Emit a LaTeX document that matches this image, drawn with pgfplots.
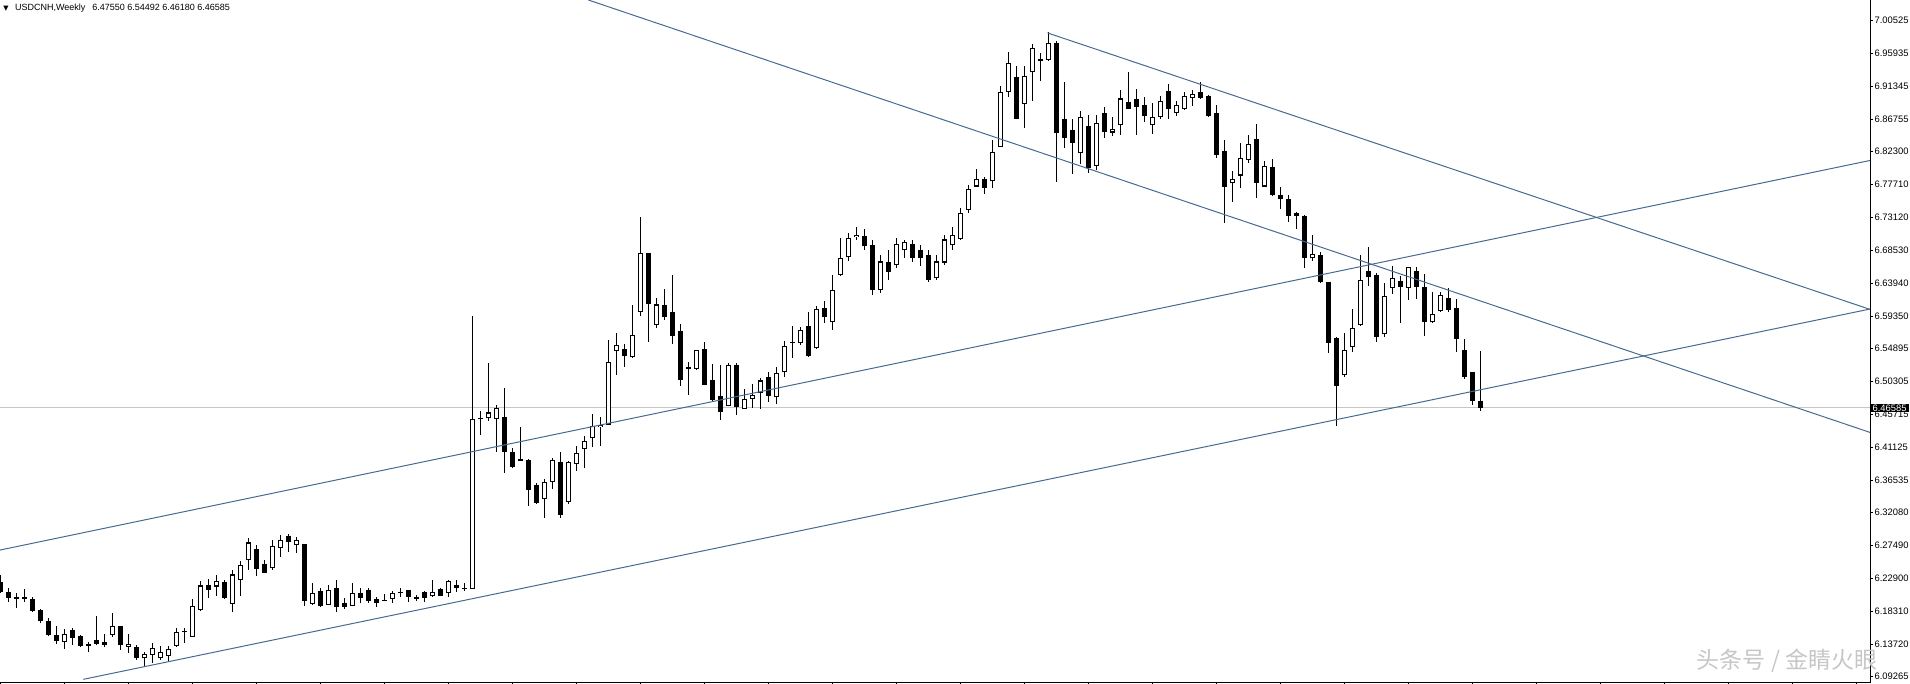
\documentclass[border=0pt]{standalone}
\usepackage{fontspec}
\setmainfont{Liberation Sans}
\newfontfamily\cjk{Noto Sans CJK SC}
\newfontfamily\dejavu{DejaVu Sans}
\usepackage{pgfplots}
\usepackage{pgfplotstable}
\pgfplotsset{compat=1.18}

% weekly candles, rising (white) ones: index, open, high, low, close
\pgfplotstableread{
i o h l c
8 6.1416 6.1583 6.1305 6.1513
14 6.1513 6.1805 6.1471 6.1624
16 6.1346 6.1513 6.1249 6.1374
18 6.1180 6.1263 6.1054 6.1235
19 6.1235 6.1388 6.1110 6.1305
20 6.1193 6.1346 6.1152 6.1263
21 6.1221 6.1346 6.1124 6.1291
22 6.1360 6.1597 6.1332 6.1541
24 6.1485 6.2000 6.1471 6.1889
25 6.1861 6.2251 6.1833 6.2181
27 6.2181 6.2334 6.2042 6.2237
29 6.1944 6.2404 6.1819 6.2334
30 6.2278 6.2529 6.2042 6.2473
31 6.2543 6.2848 6.2404 6.2779
34 6.2432 6.2821 6.2404 6.2724
35 6.2710 6.2890 6.2585 6.2807
37 6.2752 6.2863 6.2640 6.2807
39 6.1944 6.2223 6.1916 6.2070
41 6.1930 6.2195 6.1916 6.2125
44 6.1916 6.2223 6.1903 6.2083
49 6.2014 6.2111 6.1944 6.2083
54 6.2042 6.2264 6.2028 6.2097
56 6.2097 6.2264 6.2028 6.2237
59 6.2153 6.5936 6.2139 6.4490
61 6.4518 6.5283 6.4476 6.4587
62 6.4504 6.4698 6.4045 6.4643
68 6.3391 6.3669 6.3127 6.3614
69 6.3628 6.3961 6.3530 6.3933
71 6.3363 6.3920 6.3321 6.3892
72 6.3878 6.4128 6.3781 6.4017
73 6.4087 6.4267 6.3822 6.4184
74 6.4240 6.4573 6.4114 6.4393
75 6.4393 6.4532 6.4128 6.4420
76 6.4434 6.5603 6.4420 6.5283
77 6.5450 6.5700 6.5116 6.5519
79 6.5366 6.6089 6.5352 6.5658
80 6.5992 6.7313 6.5936 6.6812
82 6.5811 6.6186 6.5770 6.6089
87 6.5199 6.5464 6.5185 6.5450
91 6.4685 6.5283 6.4680 6.5241
93 6.4643 6.4921 6.4640 6.4768
94 6.4782 6.4991 6.4657 6.4824
95 6.4866 6.5074 6.4643 6.5032
97 6.4810 6.5227 6.4712 6.5130
98 6.5171 6.5589 6.5088 6.5506
100 6.5561 6.5783 6.5533 6.5728
102 6.5492 6.6075 6.5478 6.6020
104 6.5853 6.6507 6.5742 6.6284
105 6.6520 6.7020 6.6493 6.6729
106 6.6757 6.7090 6.6701 6.7007
107 6.7035 6.7174 6.6993 6.7062
110 6.6298 6.6784 6.6256 6.6687
112 6.6646 6.7020 6.6604 6.6924
113 6.6854 6.6993 6.6743 6.6952
117 6.6465 6.6784 6.6437 6.6687
118 6.6687 6.7062 6.6646 6.6993
119 6.6924 6.7174 6.6854 6.7049
120 6.7020 6.7438 6.6993 6.7368
121 6.7424 6.7758 6.7368 6.7689
122 6.7744 6.7981 6.7730 6.7828
124 6.7814 6.8384 6.7716 6.8203
125 6.8300 6.9135 6.8287 6.9038
126 6.9065 6.9608 6.8982 6.9441
128 6.8898 6.9413 6.8551 6.9260
129 6.9330 6.9719 6.8926 6.9663
131 6.9510 6.9886 6.9483 6.9719
135 6.8203 6.8787 6.8050 6.8690
137 6.8036 6.8732 6.7967 6.8607
139 6.8495 6.8704 6.8440 6.8523
140 6.8593 6.9079 6.8454 6.8954
144 6.8593 6.8898 6.8468 6.8690
145 6.8704 6.8996 6.8676 6.8926
147 6.8773 6.8926 6.8718 6.8857
148 6.8815 6.9051 6.8801 6.8982
149 6.8968 6.9079 6.8857 6.9010
154 6.7786 6.7953 6.7522 6.7841
155 6.7897 6.8342 6.7716 6.8120
156 6.8106 6.8454 6.8064 6.8328
158 6.7744 6.8092 6.7730 6.8022
164 6.6743 6.7062 6.6701 6.6798
168 6.5116 6.5700 6.5088 6.5450
169 6.5506 6.6034 6.5436 6.5756
170 6.5811 6.6784 6.5797 6.6423
173 6.5686 6.6395 6.5644 6.6214
174 6.6339 6.6632 6.6242 6.6451
176 6.6339 6.6618 6.6159 6.6604
179 6.5853 6.6270 6.5845 6.5950
180 6.6006 6.6270 6.5992 6.6228
}\bull

% falling (black) candles
\pgfplotstableread{
i o h l c
0 6.2237 6.2334 6.2090 6.2097
1 6.2097 6.2153 6.1958 6.2014
2 6.2028 6.2083 6.1875 6.2000
3 6.2028 6.2139 6.1958 6.2000
4 6.2000 6.2028 6.1819 6.1833
5 6.1847 6.1861 6.1666 6.1694
6 6.1694 6.1736 6.1485 6.1499
7 6.1499 6.1624 6.1374 6.1416
9 6.1569 6.1597 6.1360 6.1457
10 6.1485 6.1499 6.1332 6.1346
11 6.1374 6.1402 6.1263 6.1346
12 6.1430 6.1764 6.1360 6.1374
13 6.1402 6.1513 6.1332 6.1360
15 6.1624 6.1624 6.1291 6.1360
17 6.1332 6.1360 6.1152 6.1180
23 6.1555 6.1597 6.1388 6.1541
26 6.2195 6.2278 6.2014 6.2125
28 6.2237 6.2264 6.2000 6.2014
32 6.2696 6.2752 6.2320 6.2418
33 6.2487 6.2543 6.2355 6.2362
36 6.2877 6.2904 6.2654 6.2793
38 6.2765 6.2765 6.1903 6.1972
40 6.2111 6.2153 6.1889 6.1903
42 6.2153 6.2264 6.1819 6.1889
43 6.1944 6.2014 6.1861 6.1889
45 6.2083 6.2153 6.1944 6.2014
46 6.2125 6.2153 6.1944 6.1972
47 6.2000 6.2028 6.1889 6.1944
48 6.1986 6.2070 6.1968 6.1975
50 6.2097 6.2153 6.2028 6.2083
51 6.2125 6.2125 6.1958 6.2028
52 6.2028 6.2056 6.1972 6.2000
53 6.2097 6.2111 6.1958 6.2014
55 6.2139 6.2153 6.2035 6.2042
57 6.2195 6.2264 6.2097 6.2153
58 6.2153 6.2223 6.2111 6.2139
60 6.4520 6.4615 6.4281 6.4508
63 6.4532 6.4935 6.3753 6.4045
64 6.4045 6.4100 6.3822 6.3836
65 6.3947 6.4393 6.3913 6.3920
66 6.3933 6.3947 6.3294 6.3516
67 6.3586 6.3614 6.3321 6.3335
70 6.3906 6.4045 6.3127 6.3168
78 6.5478 6.5547 6.5227 6.5380
81 6.6812 6.6812 6.5575 6.6103
83 6.6089 6.6312 6.5881 6.5922
84 6.5992 6.6507 6.5547 6.5658
85 6.5728 6.5825 6.4963 6.5046
86 6.5227 6.5297 6.4838 6.5199
88 6.5478 6.5575 6.4970 6.4977
89 6.5046 6.5269 6.4740 6.4768
90 6.4824 6.5255 6.4490 6.4601
92 6.5255 6.5283 6.4559 6.4671
96 6.5088 6.5157 6.4740 6.4824
99 6.5575 6.5797 6.5352 6.5561
101 6.5797 6.5992 6.5366 6.5380
103 6.6048 6.6145 6.5839 6.5922
108 6.7049 6.7146 6.6854 6.6910
109 6.6924 6.6993 6.6228 6.6298
111 6.6687 6.6854 6.6437 6.6548
114 6.6938 6.6993 6.6687 6.6743
115 6.6854 6.6924 6.6632 6.6743
116 6.6784 6.6854 6.6409 6.6437
123 6.7841 6.7869 6.7633 6.7716
127 6.9260 6.9413 6.8670 6.8676
130 6.9510 6.9594 6.9204 6.9483
132 6.9733 6.9761 6.7800 6.8481
133 6.8676 6.9191 6.8273 6.8412
134 6.8523 6.8676 6.7911 6.8342
136 6.8579 6.8732 6.7925 6.7995
138 6.8759 6.8843 6.8412 6.8495
141 6.8912 6.9330 6.8810 6.8815
142 6.8954 6.9093 6.8454 6.8843
143 6.8871 6.8982 6.8634 6.8718
146 6.9065 6.9163 6.8676 6.8815
150 6.9051 6.9191 6.8960 6.8968
151 6.8996 6.9010 6.8704 6.8718
152 6.8759 6.8871 6.8134 6.8175
153 6.8231 6.8384 6.7230 6.7730
157 6.8398 6.8607 6.7577 6.7786
159 6.8008 6.8120 6.7605 6.7619
160 6.7619 6.7730 6.7424 6.7563
161 6.7563 6.7619 6.7243 6.7327
162 6.7368 6.7382 6.7146 6.7327
163 6.7327 6.7341 6.6604 6.6743
165 6.6784 6.6826 6.6395 6.6409
166 6.6409 6.6409 6.5422 6.5561
167 6.5630 6.5644 6.4406 6.4963
171 6.6562 6.6896 6.6353 6.6479
172 6.6507 6.6534 6.5575 6.5644
175 6.6423 6.6493 6.5839 6.6339
177 6.6562 6.6618 6.6172 6.6339
178 6.6339 6.6520 6.5658 6.5853
181 6.6186 6.6326 6.5992 6.6020
182 6.6048 6.6172 6.5436 6.5617
183 6.5464 6.5617 6.5060 6.5088
184 6.5157 6.5157 6.4698 6.4754
185 6.47550 6.54492 6.46180 6.46585
}\bear

\definecolor{trendc}{RGB}{72,106,146}
\tikzset{trend/.style={trendc, line width=0.5pt}}

\begin{document}
\begin{tikzpicture}
\begin{axis}[
  at={(0pt,0.5pt)}, anchor=south west,
  scale only axis, width=935pt, height=341.5pt,
  xmin=0, xmax=1870, ymin=6.0832, ymax=7.0331,
  axis x line=bottom, axis y line=right,
  axis line style={-, line width=0.5pt, black},
  tick align=outside, major tick length=1.3pt,
  tick style={black, line width=0.5pt},
  xtick={0.5,64.5,...,1870}, xticklabels={},
  ytick={7.00525,6.95935,6.91345,6.86755,6.82300,6.77710,6.73120,6.68530,6.63940,6.59350,6.54895,6.50305,6.45715,6.41125,6.36535,6.32080,6.27490,6.22900,6.18310,6.13720,6.09265},
  yticklabels={7.00525,6.95935,6.91345,6.86755,6.82300,6.77710,6.73120,6.68530,6.63940,6.59350,6.54895,6.50305,6.45715,6.41125,6.36535,6.32080,6.27490,6.22900,6.18310,6.13720,6.09265},
  yticklabel style={font=\fontsize{4.7}{5}\selectfont, inner sep=0.8pt},
  clip mode=individual,
]
% current price line
\addplot[gray!45, line width=0.5pt] coordinates {(0,6.46585) (1870,6.46585)};

% wicks
\addplot[black, line width=0.5pt, quiver={u=0, v=\thisrow{h}-\thisrow{l}}]
  table[x expr=8*\thisrow{i}+0.5, y=l] {\bull};
\addplot[black, line width=0.5pt, quiver={u=0, v=\thisrow{h}-\thisrow{l}}]
  table[x expr=8*\thisrow{i}+0.5, y=l] {\bear};
% black bodies
\addplot[black, line width=2.6pt, quiver={u=0, v=\thisrow{c}-\thisrow{o}-0.0007}]
  table[x expr=8*\thisrow{i}+0.5, y expr=\thisrow{o}+0.00035] {\bear};
% white bodies: outline then fill
\addplot[black, line width=2.6pt, quiver={u=0, v=\thisrow{c}-\thisrow{o}+0.0014}]
  table[x expr=8*\thisrow{i}+0.5, y expr=\thisrow{o}-0.0007] {\bull};
\addplot[white, line width=1.4pt, quiver={u=0, v={max(\thisrow{c}-\thisrow{o}-0.0014,0)}}]
  table[x expr=8*\thisrow{i}+0.5, y expr=\thisrow{o}+0.0007] {\bull};

% trend lines
\addplot[trend] coordinates {(0,6.2681) (1870,6.8099)};
\addplot[trend] coordinates {(83.3,6.0883) (1870,6.6033)};
\addplot[trend] coordinates {(588.3,7.0331) (1870,6.4317)};
\addplot[trend] coordinates {(1047.5,6.9873) (1870,6.6028)};

% price box on the axis
\node[fill=black, text=white, anchor=west, inner xsep=1.1pt, inner ysep=0.3pt,
      text height=3.4pt, text depth=0pt, font=\fontsize{4.7}{5}\selectfont]
  at (axis cs:1870,6.46585) {6.46585};

% title
\node[anchor=base west, inner sep=0pt, font=\fontsize{4.5}{5}\selectfont]
  at (axis cs:3,7.0178) {{\dejavu\fontsize{3.4}{4}\selectfont ▼}\hspace{3.2pt}USDCNH,Weekly\hspace{3.5pt}6.47550 6.54492 6.46180 6.46585};

% watermark
\node[inner sep=0pt, text=gray!45, font=\cjk\fontsize{11.5}{12}\selectfont]
  at (axis cs:1787,6.1138) {头条号 / 金睛火眼};
\end{axis}
\pgfresetboundingbox
\useasboundingbox (0,0) rectangle (955pt,342pt);
\end{tikzpicture}
\end{document}
